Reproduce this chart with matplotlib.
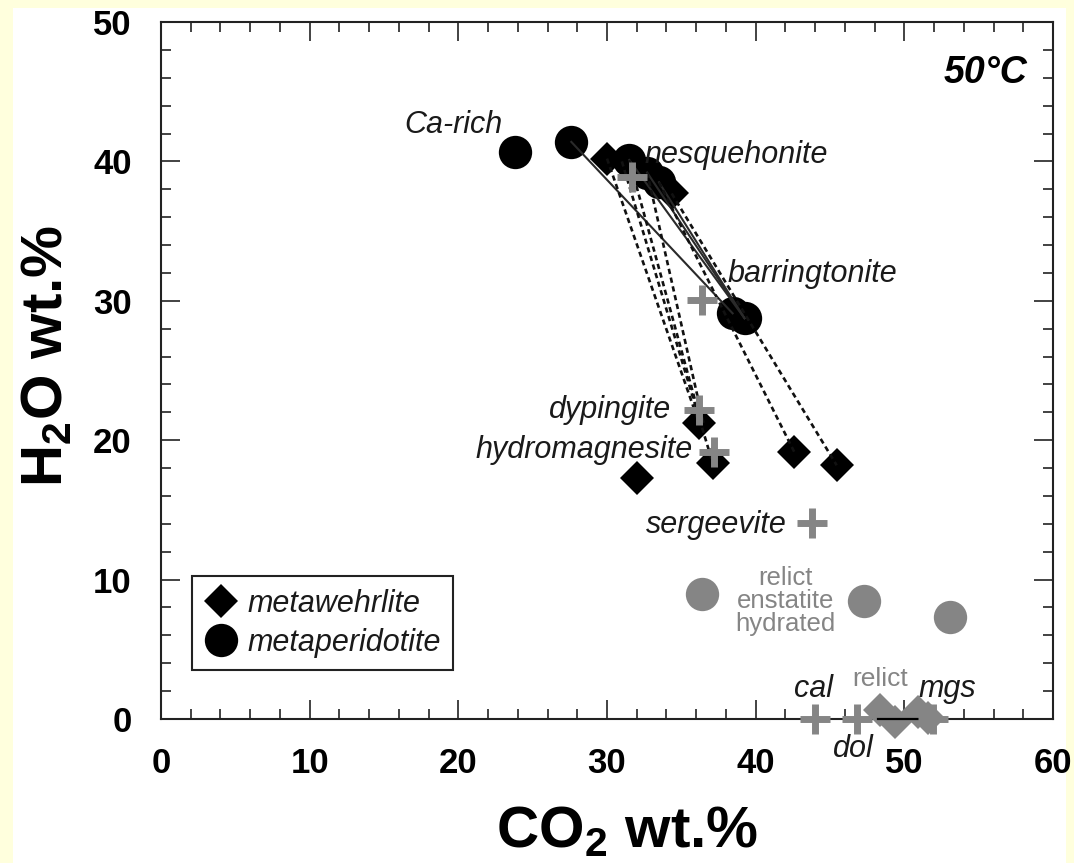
import matplotlib
matplotlib.use('Agg')
import matplotlib.pyplot as plt
from matplotlib.lines import Line2D
from matplotlib.patches import Rectangle

# --- data (CO2 wt.%, H2O wt.%) ---
# metaperidotite (black circles)
peri_co2 = [23.8, 27.6, 31.5, 32.7, 33.5, 38.45, 39.25]
peri_h2o = [40.7, 41.4, 40.1, 39.2, 38.5, 29.1, 28.75]
# metawehrlite (black diamonds)
wehr_co2 = [30.0, 34.35, 36.2, 37.1, 32.05, 42.6, 45.45]
wehr_h2o = [40.2, 37.7, 21.2, 18.4, 17.3, 19.15, 18.2]
# relict enstatite hydrated (grey circles)
ens_co2 = [36.4, 47.3, 53.1]
ens_h2o = [9.0, 8.45, 7.3]
# relict carbonates (grey diamonds)
relict_co2 = [48.35, 49.4, 50.9, 51.6]
relict_h2o = [0.65, -0.2, 0.5, 0.07]
relict_line_co2 = [48.2, 51.0]
relict_line_h2o = [0.0, 0.0]

# reference minerals (grey crosses)
min_names = ['nesquehonite', 'barringtonite', 'dypingite', 'hydromagnesite',
             'sergeevite', 'cal', 'dol', 'mgs']
min_co2 = [31.7, 36.4, 36.2, 37.2, 43.8, 44.0, 46.8, 51.9]
min_h2o = [38.9, 30.05, 22.2, 19.15, 14.05, 0.0, 0.0, 0.0]

# reaction paths
solid_x0 = [27.6, 31.5, 32.7, 33.5]
solid_y0 = [41.4, 40.1, 39.2, 38.5]
solid_x1 = [38.45, 39.25, 39.25, 39.25]
solid_y1 = [29.1, 28.75, 28.75, 28.75]

dash_x0 = [30.0, 31.5, 32.7, 31.0, 33.5, 34.35]
dash_y0 = [40.2, 40.1, 39.2, 40.0, 38.5, 37.7]
dash_x1 = [36.2, 36.3, 36.5, 37.1, 42.6, 45.45]
dash_y1 = [21.2, 21.4, 21.2, 18.4, 19.15, 18.2]

plt.rcParams['font.family'] = ['Liberation Sans', 'DejaVu Sans']

grey = '#858585'

fig = plt.figure(figsize=(10.74, 8.63), dpi=100, facecolor='#FFFFDD')
fig.patches.append(Rectangle((13 / 1074, 0), (1066 - 13) / 1074, (863 - 8) / 863,
                             transform=fig.transFigure, facecolor='white',
                             edgecolor='none', zorder=-10))
ax = fig.add_axes([161 / 1074, 1 - 719 / 863, 892 / 1074, 697 / 863])

# paths
for i in range(len(solid_x0)):
    ax.plot([solid_x0[i], solid_x1[i]], [solid_y0[i], solid_y1[i]],
            color='#2a2a2a', lw=1.5, zorder=4)
for i in range(len(dash_x0)):
    ax.plot([dash_x0[i], dash_x1[i]], [dash_y0[i], dash_y1[i]],
            color='#111111', lw=1.9, ls=(0, (2, 1.4)), zorder=4)

# samples
ax.plot(peri_co2, peri_h2o, 'o', color='black', ms=24, mew=0, zorder=3)
ax.plot(wehr_co2, wehr_h2o, 'D', color='black', ms=17.5, mew=0, zorder=3)
ax.plot(ens_co2, ens_h2o, 'o', color=grey, ms=24, mew=0, zorder=3)
ax.plot(relict_co2, relict_h2o, 'D', color=grey, ms=17, mew=0, zorder=3,
        clip_on=False)
ax.plot(relict_line_co2, relict_line_h2o, color='black', lw=1.6, zorder=4,
        clip_on=False)
ax.plot(min_co2, min_h2o, '+', color=grey, ms=22, mew=5, zorder=5, clip_on=False)

# mineral labels
lab = dict(fontsize=22, style='italic', color='#1a1a1a', va='baseline')
ax.text(22.96, 42.04, 'Ca-rich', ha='right', **lab)
ax.text(32.5, 39.9, 'nesquehonite', ha='left', **lab)
ax.text(38.1, 31.35, 'barringtonite', ha='left', **lab)
ax.text(34.35, 21.6, 'dypingite', ha='right', **lab)
ax.text(35.75, 18.7, 'hydromagnesite', ha='right', **lab)
ax.text(42.1, 13.35, 'sergeevite', ha='right', **lab)
ax.text(43.87, 1.58, 'cal', ha='center', **lab)
ax.text(46.55, -2.73, 'dol', ha='center', clip_on=False, **lab)
ax.text(52.9, 1.58, 'mgs', ha='center', **lab)
ax.text(42.0, 6.3, 'relict\nenstatite\nhydrated', ha='center', va='baseline',
        fontsize=18.5, color=grey, linespacing=0.95)
ax.text(48.35, 2.4, 'relict', ha='center', va='baseline', fontsize=19, color=grey)
ax.text(0.971, 0.9125, '50°C', transform=ax.transAxes, ha='right', va='baseline',
        fontsize=27, fontweight='bold', style='italic')

# axes
ax.set_xlim(0, 60)
ax.set_ylim(0, 50)
ax.set_xticks(range(0, 61, 10))
ax.set_yticks(range(0, 51, 10))
ax.set_xticks(range(0, 61, 2), minor=True)
ax.set_yticks(range(0, 51, 2), minor=True)
ax.tick_params(which='both', direction='in', top=True, right=True, width=1.2,
               color='#222222')
ax.tick_params(which='major', length=13.5)
ax.tick_params(which='minor', length=7)
ax.tick_params(axis='x', which='major', pad=20)
ax.tick_params(axis='y', which='major', pad=21)
for t in ax.get_xticklabels() + ax.get_yticklabels():
    t.set_fontweight('bold')
    t.set_fontsize(25)
for s in ax.spines.values():
    s.set_linewidth(1.5)
    s.set_color('#222222')

ax.set_xlabel('CO$_\\mathregular{2}$ wt.%', fontweight='bold',
              fontsize=42, va='baseline')
ax.xaxis.set_label_coords(0.522, -0.184)
ax.set_ylabel('H$_\\mathregular{2}$O wt.%', fontweight='bold',
              fontsize=42, va='baseline', ha='center', rotation_mode='anchor')
ax.yaxis.set_label_coords(-0.11, 0.521)

handles = [Line2D([], [], marker='D', color='black', ls='none', ms=17.5, mew=0),
           Line2D([], [], marker='o', color='black', ls='none', ms=24, mew=0)]
leg = ax.legend(handles, ['metawehrlite', 'metaperidotite'], loc='lower left',
                bbox_to_anchor=(0.0348, 0.0703), borderaxespad=0,
                prop={'size': 22, 'style': 'italic'}, fancybox=False,
                edgecolor='#222222', framealpha=1, handlelength=1.1,
                handletextpad=0.3, borderpad=0.4, labelspacing=0.3)
leg.get_frame().set_linewidth(1.5)
for t in leg.get_texts():
    t.set_color('#1a1a1a')

fig.savefig('out.png', dpi=100, facecolor=fig.get_facecolor())
